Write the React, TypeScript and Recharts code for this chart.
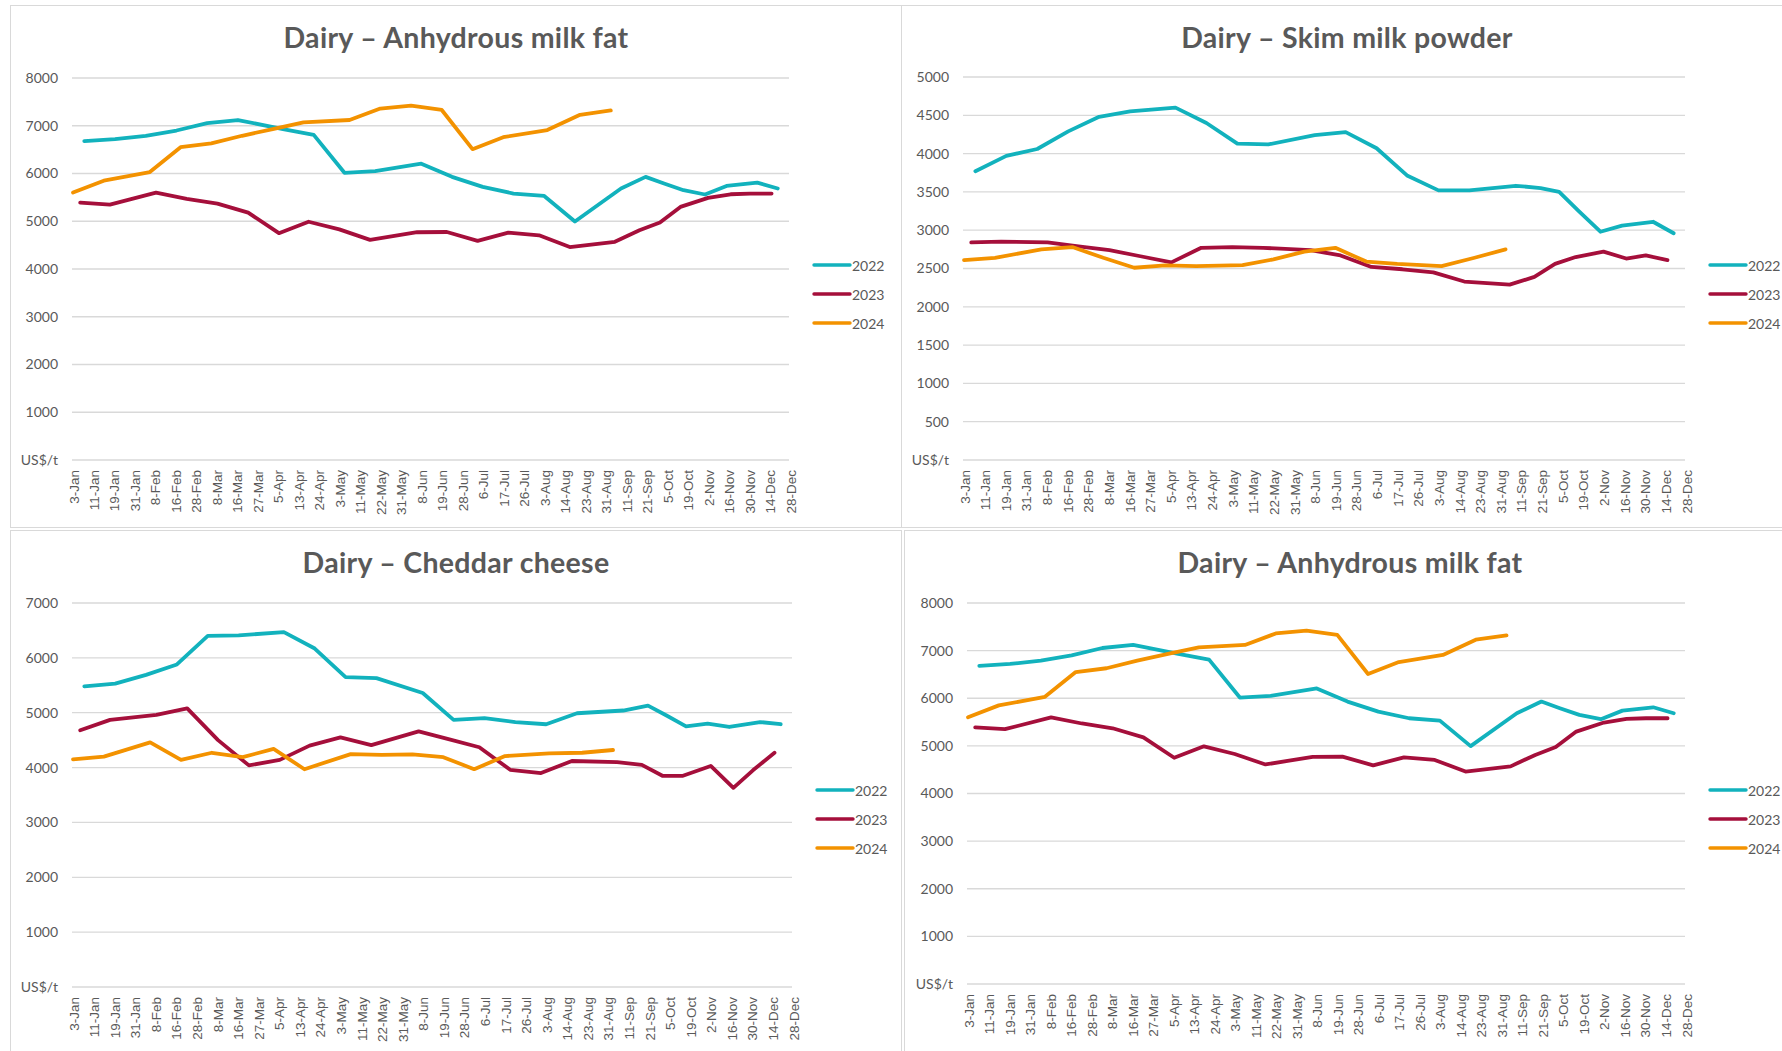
import { LineChart, Line, XAxis, YAxis, CartesianGrid } from 'recharts'

// axis labels, shown one per step along the bottom
const categories = [
  '3-Jan', '11-Jan', '19-Jan', '31-Jan', '8-Feb', '16-Feb', '28-Feb', '8-Mar', '16-Mar',
  '27-Mar', '5-Apr', '13-Apr', '24-Apr', '3-May', '11-May', '22-May', '31-May', '8-Jun',
  '19-Jun', '28-Jun', '6-Jul', '17-Jul', '26-Jul', '3-Aug', '14-Aug', '23-Aug', '31-Aug',
  '11-Sep', '21-Sep', '5-Oct', '19-Oct', '2-Nov', '16-Nov', '30-Nov', '14-Dec', '28-Dec',
]

// where each auction of a year sits along that axis (in label steps)
const pos2022 = [0.6, 2.1, 3.6, 5.1, 6.6, 8.1, 10.3, 11.8, 13.3, 14.8, 17.05, 18.55, 20.05, 21.55, 23.05, 24.55, 26.8, 28.0, 28.9, 29.85, 30.9, 31.95, 33.45, 34.45]
const pos2023 = [0.4, 1.85, 4.1, 5.6, 7.1, 8.6, 10.1, 11.55, 13.05, 14.55, 16.85, 18.3, 19.8, 21.3, 22.8, 24.3, 26.5, 27.7, 28.7, 29.7, 31.05, 32.15, 33.1, 34.15]
const pos2024 = [0.05, 1.55, 3.8, 5.3, 6.8, 8.3, 9.8, 11.3, 13.55, 15.05, 16.55, 18.05, 19.55, 21.05, 23.2, 24.8, 26.3]

// US$/t
const amf2022 = [6680, 6720, 6790, 6900, 7055, 7120, 6930, 6810, 6015, 6050, 6205, 5930, 5720, 5580, 5530, 4995, 5685, 5930, 5790, 5650, 5560, 5740, 5810, 5685]
const amf2023 = [5390, 5350, 5600, 5470, 5370, 5180, 4750, 4990, 4830, 4610, 4770, 4775, 4590, 4760, 4705, 4460, 4570, 4810, 4975, 5300, 5490, 5565, 5580, 5580]
const amf2024 = [5600, 5850, 6030, 6550, 6630, 6790, 6930, 7070, 7120, 7360, 7420, 7330, 6510, 6760, 6910, 7230, 7320]

const smp2022 = [3770, 3970, 4060, 4290, 4480, 4550, 4600, 4400, 4130, 4120, 4240, 4280, 4070, 3710, 3520, 3520, 3580, 3550, 3500, 3250, 2980, 3060, 3110, 2960]
const smp2023 = [2840, 2850, 2840, 2790, 2740, 2660, 2580, 2770, 2780, 2770, 2740, 2670, 2520, 2490, 2450, 2330, 2290, 2390, 2560, 2650, 2720, 2630, 2670, 2610]
const smp2024 = [2610, 2640, 2750, 2780, 2640, 2510, 2540, 2530, 2545, 2620, 2720, 2770, 2590, 2560, 2530, 2640, 2750]

const ched2022 = [5480, 5530, 5690, 5880, 6400, 6410, 6470, 6170, 5650, 5630, 5360, 4870, 4900, 4830, 4790, 4990, 5040, 5130, 4950, 4750, 4800, 4740, 4830, 4790]
const ched2023 = [4680, 4870, 4960, 5080, 4500, 4040, 4140, 4400, 4550, 4410, 4660, 4520, 4370, 3960, 3900, 4120, 4100, 4050, 3850, 3850, 4030, 3630, 3950, 4270]
const ched2024 = [4150, 4200, 4460, 4140, 4270, 4190, 4340, 3970, 4245, 4230, 4240, 4190, 3970, 4210, 4260, 4270, 4320]

const COLORS: Record<string, string> = {
  '2022': '#12B2BD',
  '2023': '#A50F3B',
  '2024': '#F39200',
}

const TEXT = '#595959'
const GRID = '#d9d9d9'

const toPoints = (xs: number[], vs: number[]) => xs.map((x, i) => ({ x, v: vs[i] }))

function DateTick({ x, y, payload }: any) {
  const ty = y + 2
  return (
    <text
      x={x}
      y={ty}
      dy={2}
      transform={`rotate(-90, ${x}, ${ty})`}
      textAnchor="end"
      dominantBaseline="central"
      fill={TEXT}
      fontSize={13.5}
      fontFamily="'Liberation Sans', Arial, sans-serif"
    >
      {categories[payload.value]}
    </text>
  )
}

interface PanelProps {
  left: number
  top: number
  height: number
  title: string
  yMax: number
  yStep: number
  plot: { left: number; right: number; top: number; bottom: number }
  values: [number[], number[], number[]]
}

function Panel({ left, top, height, title, yMax, yStep, plot, values }: PanelProps) {
  const width = 892
  const ticks: number[] = []
  for (let t = 0; t <= yMax; t += yStep) ticks.push(t)
  const series = [
    { name: '2022', data: toPoints(pos2022, values[0]) },
    { name: '2023', data: toPoints(pos2023, values[1]) },
    { name: '2024', data: toPoints(pos2024, values[2]) },
  ]
  const xAxisH = 60
  const legendX = plot.right + 25

  return (
    <div
      style={{
        position: 'absolute', left, top, width, height,
        boxShadow: `inset 0 0 0 1px ${GRID}`,
        background: '#fff',
      }}
    >
      <LineChart
        width={width}
        height={height}
        margin={{ top: plot.top, right: width - plot.right, bottom: height - plot.bottom - xAxisH, left: 0 }}
      >
        <CartesianGrid vertical={false} stroke={GRID} strokeWidth={1.3} />
        <XAxis
          type="number"
          dataKey="x"
          domain={[0, 35]}
          ticks={categories.map((_, i) => i)}
          interval={0}
          tick={<DateTick />}
          tickLine={false}
          axisLine={false}
          height={xAxisH}
        />
        <YAxis
          type="number"
          domain={[0, yMax]}
          ticks={ticks}
          interval={0}
          width={plot.left}
          tickLine={false}
          axisLine={false}
          tickMargin={8}
          tickFormatter={(v: number) => (v === 0 ? 'US$/t' : String(v))}
          tick={{ fill: TEXT, fontSize: 14, fontFamily: 'Lato, sans-serif' }}
        />
        {series.map(s => (
          <Line
            key={s.name}
            data={s.data}
            dataKey="v"
            type="linear"
            stroke={COLORS[s.name]}
            strokeWidth={3.8}
            strokeLinejoin="round"
            strokeLinecap="round"
            dot={false}
            activeDot={false}
            isAnimationActive={false}
          />
        ))}
      </LineChart>

      <svg
        width={width}
        height={height}
        style={{ position: 'absolute', left: 0, top: 0, pointerEvents: 'none', overflow: 'visible' }}
      >
        <text
          x={width / 2}
          y={42.5}
          textAnchor="middle"
          fill={TEXT}
          fontSize={28.5}
          fontWeight={700}
          letterSpacing={0.3}
          fontFamily="Lato, sans-serif"
        >
          {title}
        </text>
        {series.map((s, i) => {
          const ry = 260 + i * 29
          return (
            <g key={s.name}>
              <line x1={legendX} y1={ry} x2={legendX + 36} y2={ry} stroke={COLORS[s.name]} strokeWidth={3.4} strokeLinecap="round" />
              <text x={legendX + 38} y={ry} dominantBaseline="central" fill={TEXT} fontSize={14} fontFamily="Lato, sans-serif">
                {s.name}
              </text>
            </g>
          )
        })}
      </svg>
    </div>
  )
}

export default function App() {
  return (
    <div style={{ position: 'absolute', left: 0, top: 0, width: 1782, height: 1051, overflow: 'hidden', background: '#fff' }}>
      <Panel
        left={10} top={5} height={523}
        title="Dairy – Anhydrous milk fat"
        yMax={8000} yStep={1000}
        plot={{ left: 62, right: 779, top: 73, bottom: 455 }}
        values={[amf2022, amf2023, amf2024]}
      />
      <Panel
        left={901} top={5} height={523}
        title="Dairy – Skim milk powder"
        yMax={5000} yStep={500}
        plot={{ left: 62, right: 784, top: 72, bottom: 455 }}
        values={[smp2022, smp2023, smp2024]}
      />
      <Panel
        left={10} top={530} height={530}
        title="Dairy – Cheddar cheese"
        yMax={7000} yStep={1000}
        plot={{ left: 62, right: 782, top: 73, bottom: 457 }}
        values={[ched2022, ched2023, ched2024]}
      />
      <Panel
        left={904} top={530} height={530}
        title="Dairy – Anhydrous milk fat"
        yMax={8000} yStep={1000}
        plot={{ left: 63, right: 781, top: 73, bottom: 454 }}
        values={[amf2022, amf2023, amf2024]}
      />
    </div>
  )
}
